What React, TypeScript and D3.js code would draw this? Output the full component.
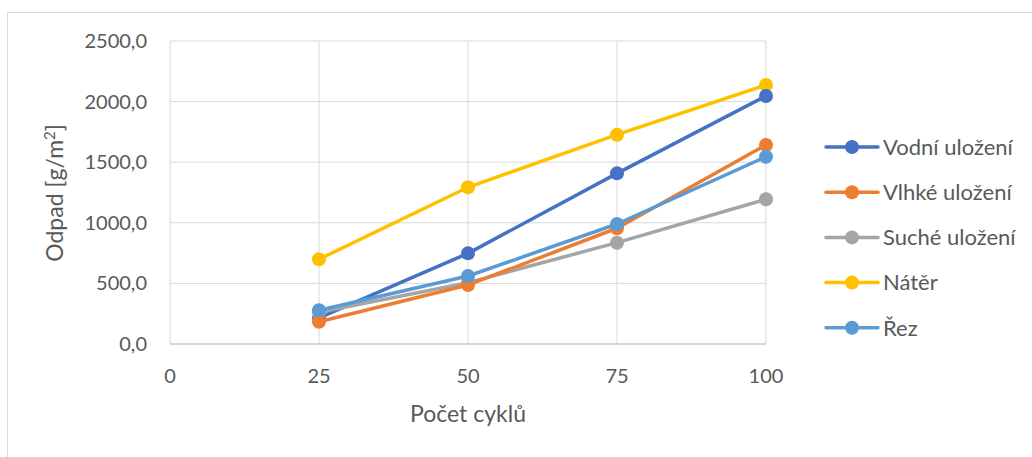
import React from "react";
import * as d3 from "d3";

const cycles = [25, 50, 75, 100];
const seriesNames = ["Vodní uložení", "Vlhké uložení", "Suché uložení", "Nátěr", "Řez"];
const vodni = [215, 748, 1408, 2046];
const vlhke = [184, 487, 955, 1642];
const suche = [262, 506, 836, 1194];
const nater = [699, 1293, 1727, 2137];
const rez = [278, 561, 990, 1545];
const colors = ["#4472C4", "#ED7D31", "#A5A5A5", "#FFC000", "#5B9BD5"];
const xTicks = [0, 25, 50, 75, 100];
const yTicks = [0, 500, 1000, 1500, 2000, 2500];

const W = 1032, H = 457;
const font = "Lato, 'Open Sans', sans-serif";

export default function App() {
  const x = d3.scaleLinear().domain([0, 100]).range([170, 766]);
  const y = d3.scaleLinear().domain([0, 2500]).range([344, 41]);
  const data = [vodni, vlhke, suche, nater, rez];
  const line = d3.line<number>().x((_, i) => x(cycles[i])).y((d) => y(d));
  const order = [3, 0, 2, 1, 4];
  const fmt = (v: number) => v.toFixed(1).replace(".", ",");
  return (
    <svg width={W} height={H} style={{ position: "absolute", left: 0, top: 0, background: "#fff" }}>
      <rect x={7.5} y={12.5} width={1030} height={460} fill="#fff" stroke="#d9d9d9" strokeWidth={1} />
      {yTicks.map((t) => (
        <line key={"gy" + t} x1={x(0)} x2={x(100)} y1={y(t)} y2={y(t)} stroke="#d9d9d9" strokeWidth={1} />
      ))}
      {xTicks.map((t) => (
        <line key={"gx" + t} x1={x(t)} x2={x(t)} y1={y(0)} y2={y(2500)} stroke="#d9d9d9" strokeWidth={1} />
      ))}
      <line x1={x(0)} x2={x(100)} y1={y(0)} y2={y(0)} stroke="#bfbfbf" strokeWidth={1} />
      {yTicks.map((t) => (
        <text key={"ly" + t} x={147} y={y(t)} dy="0.35em" textAnchor="end" fontFamily={font} fontSize={20} fill="#595959">
          {fmt(t)}
        </text>
      ))}
      {xTicks.map((t) => (
        <text key={"lx" + t} x={x(t)} y={376} dy="0.35em" textAnchor="middle" fontFamily={font} fontSize={20} fill="#595959">
          {t}
        </text>
      ))}
      <text x={468} y={414} dy="0.35em" textAnchor="middle" fontFamily={font} fontSize={23} fill="#595959">
        Počet cyklů
      </text>
      <text transform="translate(55,193) rotate(-90)" textAnchor="middle" dy="0.35em" fontFamily={font} fontSize={23} fill="#595959">
        Odpad [g/m<tspan dy="-8" fontSize={15}>2</tspan><tspan dy="8">]</tspan>
      </text>
      {order.map((si) => (
        <g key={"s" + si}>
          <path d={line(data[si]) || ""} fill="none" stroke={colors[si]} strokeWidth={3.5} strokeLinejoin="round" strokeLinecap="round" />
          {data[si].map((v, i) => (
            <circle key={i} cx={x(cycles[i])} cy={y(v)} r={7} fill={colors[si]} />
          ))}
        </g>
      ))}
      {seriesNames.map((n, i) => {
        const ly = 147 + i * 45.2;
        return (
          <g key={"lg" + i}>
            <line x1={826} x2={878} y1={ly} y2={ly} stroke={colors[i]} strokeWidth={3.5} strokeLinecap="round" />
            <circle cx={852} cy={ly} r={7} fill={colors[i]} />
            <text x={883} y={ly} dy="0.35em" fontFamily={font} fontSize={22} fill="#595959">
              {n}
            </text>
          </g>
        );
      })}
    </svg>
  );
}
